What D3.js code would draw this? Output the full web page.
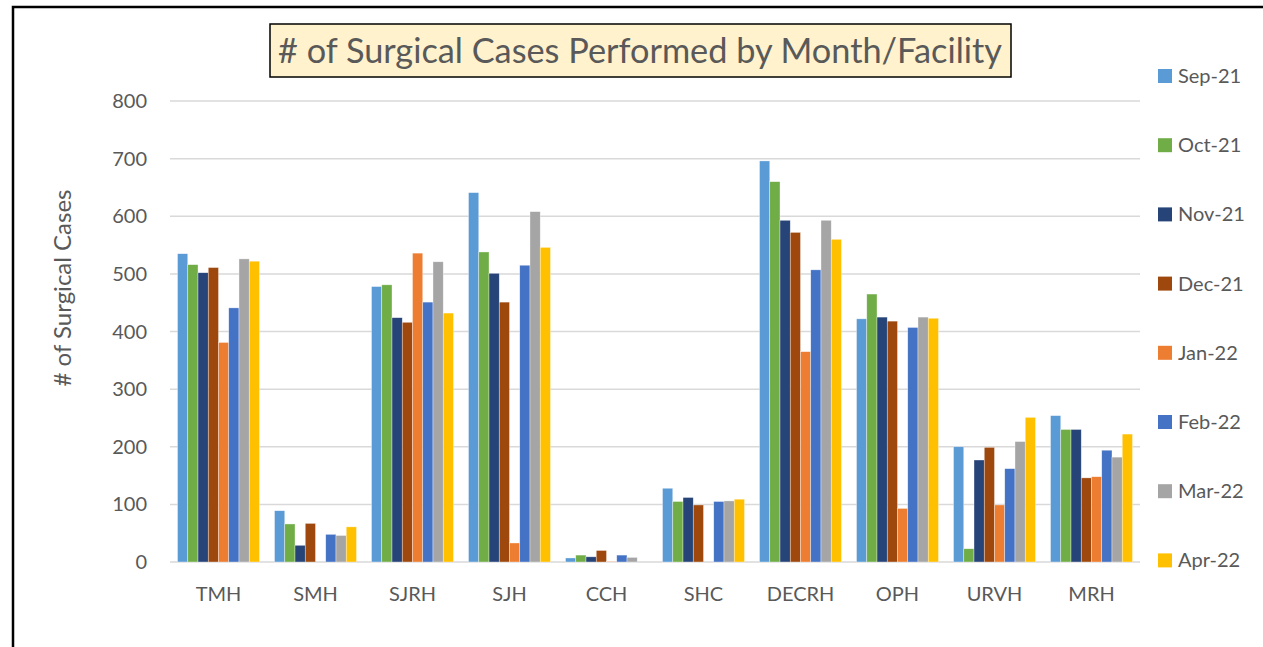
<!DOCTYPE html>
<html>
<head>
<meta charset="utf-8">
<script src="https://cdn.jsdelivr.net/npm/d3@7"></script>
<style>
  html, body { margin: 0; padding: 0; background: #fff; }
  svg { display: block; font-family: Lato, "Open Sans", sans-serif; }
</style>
</head>
<body>
<svg id="chart" width="1263" height="647"></svg>
<script>
const facilities = ['TMH', 'SMH', 'SJRH', 'SJH', 'CCH', 'SHC', 'DECRH', 'OPH', 'URVH', 'MRH'];
const months = ['Sep-21', 'Oct-21', 'Nov-21', 'Dec-21', 'Jan-22', 'Feb-22', 'Mar-22', 'Apr-22'];
const monthColors = ['#5B9BD5', '#70AD47', '#264478', '#9E480E', '#ED7D31', '#4472C4', '#A5A5A5', '#FFC000'];

// cases per facility, one entry per month (Sep-21 .. Apr-22)
const tmh   = [535, 516, 502, 511, 381, 441, 526, 522];
const smh   = [89, 66, 29, 67, 0, 48, 46, 61];
const sjrh  = [478, 481, 424, 416, 536, 451, 521, 432];
const sjh   = [641, 538, 501, 451, 33, 515, 608, 546];
const cch   = [7, 12, 9, 20, 1, 12, 8, 0];
const shc   = [128, 105, 112, 99, 0, 105, 106, 109];
const decrh = [696, 660, 593, 572, 365, 507, 593, 560];
const oph   = [422, 465, 425, 418, 93, 407, 425, 423];
const urvh  = [200, 23, 177, 199, 99, 162, 209, 251];
const mrh   = [254, 230, 230, 146, 148, 194, 182, 222];
const yTicks = [0, 100, 200, 300, 400, 500, 600, 700, 800];

const values = [tmh, smh, sjrh, sjh, cch, shc, decrh, oph, urvh, mrh];
const rows = facilities.map((f, i) => ({ facility: f, vals: values[i] }));

const svg = d3.select('#chart');
const textColor = '#595959';

// outer frame (only left and top edges are visible in the picture)
svg.append('path')
    .attr('d', 'M13,647 L13,7 L1263,7')
    .attr('fill', 'none')
    .attr('stroke', '#000')
    .attr('stroke-width', 2.5);

const x0 = d3.scaleBand()
    .domain(facilities)
    .range([170, 1140])
    .paddingInner(0.155)
    .paddingOuter(0.0775);

const x1 = d3.scaleBand()
    .domain(months)
    .range([0, x0.bandwidth()]);

const y = d3.scaleLinear()
    .domain([0, 800])
    .range([562, 101]);

// gridlines
svg.append('g')
  .selectAll('line')
  .data(yTicks)
  .join('line')
    .attr('x1', 170)
    .attr('x2', 1140)
    .attr('y1', d => y(d))
    .attr('y2', d => y(d))
    .attr('stroke', '#D9D9D9')
    .attr('stroke-width', 1.5);

// y tick labels
svg.append('g')
  .selectAll('text')
  .data(yTicks)
  .join('text')
    .attr('x', 147)
    .attr('y', d => y(d))
    .attr('dy', '0.35em')
    .attr('text-anchor', 'end')
    .attr('fill', textColor)
    .style('font-size', '20px')
    .text(d => d);

// bars
const groups = svg.append('g')
  .selectAll('g')
  .data(rows)
  .join('g')
    .attr('transform', d => `translate(${x0(d.facility)},0)`);

groups.selectAll('rect')
  .data(d => d.vals.map((v, i) => ({ month: months[i], value: v, color: monthColors[i] })))
  .join('rect')
    .attr('x', d => x1(d.month))
    .attr('width', x1.bandwidth())
    .attr('y', d => y(d.value))
    .attr('height', d => y(0) - y(d.value))
    .attr('fill', d => d.color)
    .attr('stroke', '#fff')
    .attr('stroke-opacity', 0.6)
    .attr('stroke-width', 0.6);

// x axis labels
svg.append('g')
  .selectAll('text')
  .data(facilities)
  .join('text')
    .attr('x', d => x0(d) + x0.bandwidth() / 2)
    .attr('y', 601)
    .attr('text-anchor', 'middle')
    .attr('fill', textColor)
    .style('font-size', '20px')
    .text(d => d);

// y axis title
svg.append('text')
    .attr('transform', 'translate(71,288) rotate(-90)')
    .attr('text-anchor', 'middle')
    .attr('fill', textColor)
    .style('font-size', '24px')
    .text('# of Surgical Cases');

// title box
svg.append('rect')
    .attr('x', 270)
    .attr('y', 24)
    .attr('width', 741)
    .attr('height', 53)
    .attr('fill', '#FFF2CC')
    .attr('stroke', '#000')
    .attr('stroke-width', 1.5);

svg.append('text')
    .attr('x', 640)
    .attr('y', 63)
    .attr('text-anchor', 'middle')
    .attr('fill', textColor)
    .attr('textLength', 724)
    .attr('lengthAdjust', 'spacingAndGlyphs')
    .style('font-size', '34px')
    .text('# of Surgical Cases Performed by Month/Facility');

// legend
const legend = svg.append('g')
  .selectAll('g')
  .data(months)
  .join('g')
    .attr('transform', (d, i) => `translate(1158,${76 + i * 69.2})`);

legend.append('rect')
    .attr('x', 0)
    .attr('y', -7)
    .attr('width', 14)
    .attr('height', 14)
    .attr('fill', (d, i) => monthColors[i]);

legend.append('text')
    .attr('x', 20)
    .attr('dy', '0.35em')
    .attr('fill', textColor)
    .style('font-size', '20px')
    .text(d => d);
</script>
</body>
</html>
